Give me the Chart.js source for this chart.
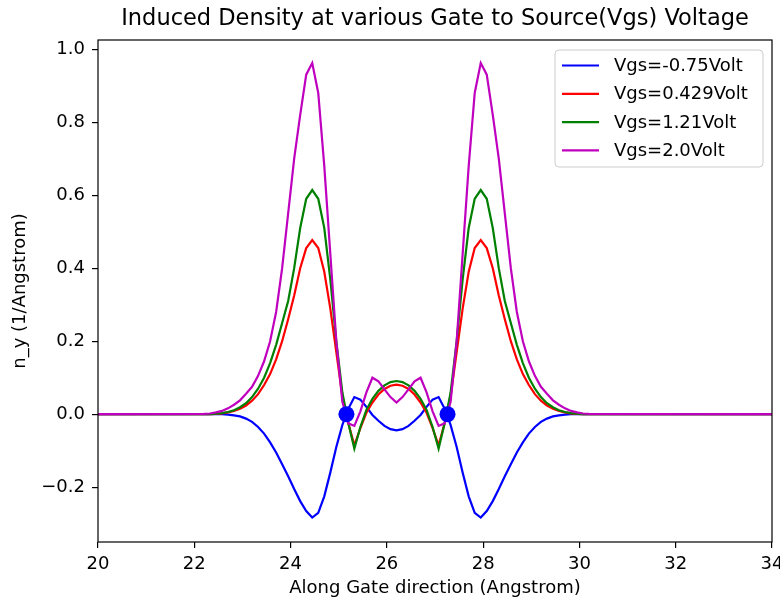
<!DOCTYPE html>
<html>
<head>
  <meta charset="utf-8">
  <title>Induced Density at various Gate to Source(Vgs) Voltage</title>
  <script src="https://cdn.jsdelivr.net/npm/chart.js"></script>
  <style>
    body { margin: 0; background: #fff; }
    #densityChart { display: block; }
  </style>
</head>
<body>
  <canvas id="densityChart" width="780" height="602"></canvas>

  <script>
    // position along the gate (Angstrom), shared by all four curves
    const gatePos = [
      19.5,
      22.2, 22.325, 22.45, 22.575, 22.7, 22.825, 22.95, 23.075,
      23.2, 23.325, 23.45, 23.575, 23.7, 23.825, 23.95, 24.075,
      24.2, 24.325, 24.45, 24.575, 24.7, 24.825, 24.95, 25.075,
      25.2, 25.325, 25.45, 25.575, 25.7, 25.825, 25.95, 26.075,
      26.2,
      26.325, 26.45, 26.575, 26.7, 26.825, 26.95, 27.075, 27.2,
      27.325, 27.45, 27.575, 27.7, 27.825, 27.95, 28.075, 28.2,
      28.325, 28.45, 28.575, 28.7, 28.825, 28.95, 29.075, 29.2,
      29.325, 29.45, 29.575, 29.7, 29.825, 29.95, 30.075, 30.2,
      34.5
    ];

    // induced density n_y (1/Angstrom) for each Vgs
    const nyVgsNeg075 = [
      0,
      0, 0, 0, 0, -0.001, -0.003, -0.006, -0.012,
      -0.021, -0.035, -0.053, -0.077, -0.105, -0.137, -0.17, -0.205,
      -0.238, -0.265, -0.283, -0.27, -0.225, -0.16, -0.09, -0.03,
      0.015, 0.047, 0.04, 0.02, -0.002, -0.018, -0.032, -0.041,
      -0.044,
      -0.041, -0.032, -0.018, -0.002, 0.02, 0.04, 0.047, 0.015,
      -0.03, -0.09, -0.16, -0.225, -0.27, -0.283, -0.265, -0.238,
      -0.205, -0.17, -0.137, -0.105, -0.077, -0.053, -0.035, -0.021,
      -0.012, -0.006, -0.003, -0.001, 0, 0, 0, 0,
      0
    ];
    const nyVgs0429 = [
      0,
      0, 0.0005, 0.001, 0.0025, 0.005, 0.009, 0.015, 0.024,
      0.037, 0.055, 0.08, 0.11, 0.15, 0.2, 0.26, 0.325,
      0.4, 0.455, 0.477, 0.455, 0.39, 0.29, 0.17, 0.05,
      -0.025, -0.085, -0.038, 0.004, 0.032, 0.054, 0.069, 0.078,
      0.081,
      0.078, 0.069, 0.054, 0.032, 0.004, -0.038, -0.085, -0.025,
      0.05, 0.17, 0.29, 0.39, 0.455, 0.477, 0.455, 0.4,
      0.325, 0.26, 0.2, 0.15, 0.11, 0.08, 0.055, 0.037,
      0.024, 0.015, 0.009, 0.005, 0.0025, 0.001, 0.0005, 0,
      0
    ];
    const nyVgs121 = [
      0,
      0, 0.0005, 0.0015, 0.003, 0.006, 0.011, 0.019, 0.03,
      0.047, 0.07, 0.1, 0.14, 0.19, 0.25, 0.31, 0.4,
      0.51, 0.59, 0.614, 0.59, 0.51, 0.37, 0.2, 0.06,
      -0.025, -0.094, -0.035, 0.012, 0.042, 0.064, 0.079, 0.088,
      0.091,
      0.088, 0.079, 0.064, 0.042, 0.012, -0.035, -0.094, -0.025,
      0.06, 0.2, 0.37, 0.51, 0.59, 0.614, 0.59, 0.51,
      0.4, 0.31, 0.25, 0.19, 0.14, 0.1, 0.07, 0.047,
      0.03, 0.019, 0.011, 0.006, 0.003, 0.0015, 0.0005, 0,
      0
    ];
    const nyVgs20 = [
      0,
      0.001, 0.002, 0.005, 0.009, 0.016, 0.026, 0.038, 0.056,
      0.075, 0.105, 0.145, 0.2, 0.28, 0.4, 0.55, 0.7,
      0.82, 0.93, 0.962, 0.88, 0.68, 0.44, 0.2, 0.035,
      -0.025, -0.032, 0.008, 0.06, 0.1, 0.09, 0.068, 0.047,
      0.032,
      0.047, 0.068, 0.09, 0.1, 0.06, 0.008, -0.032, -0.025,
      0.035, 0.2, 0.44, 0.68, 0.88, 0.962, 0.93, 0.82,
      0.7, 0.55, 0.4, 0.28, 0.2, 0.145, 0.105, 0.075,
      0.056, 0.038, 0.026, 0.016, 0.009, 0.005, 0.002, 0.001,
      0
    ];

    const seriesNames = ['Vgs=-0.75Volt', 'Vgs=0.429Volt', 'Vgs=1.21Volt', 'Vgs=2.0Volt'];
    const seriesColors = ['#0000ff', '#ff0000', '#008000', '#bf00bf'];

    // the two marked zero points
    const markX = [25.16, 27.26];
    const markY = [0, 0];

    const xTicks = [20, 22, 24, 26, 28, 30, 32, 34];
    const yTicks = [-0.2, 0, 0.2, 0.4, 0.6, 0.8, 1.0];
    const yTickLabels = ['\u22120.2', '0.0', '0.2', '0.4', '0.6', '0.8', '1.0'];

    const FONT = "'DejaVu Sans', sans-serif";
    Chart.defaults.font.family = FONT;
    Chart.defaults.color = '#000';

    const allSeries = [nyVgsNeg075, nyVgs0429, nyVgs121, nyVgs20];

    const lineSets = allSeries.map((vals, i) => ({
      label: seriesNames[i],
      data: gatePos.map((x, j) => ({ x: x, y: vals[j] })),
      borderColor: seriesColors[i],
      borderWidth: 2.2,
      pointRadius: 0,
      tension: 0,
      fill: false,
      order: allSeries.length - i   // later curves on top
    }));

    lineSets.push({
      label: 'marks',
      data: markX.map((x, j) => ({ x: x, y: markY[j] })),
      showLine: false,
      pointRadius: 8,
      pointBackgroundColor: '#0000ff',
      pointBorderWidth: 0,
      order: 0
    });

    // title, frame and legend drawn like the matplotlib figure
    const figureDecor = {
      id: 'figureDecor',
      afterDraw(chart) {
        const { ctx, chartArea: a } = chart;
        ctx.save();

        ctx.strokeStyle = '#000';
        ctx.lineWidth = 1.2;
        ctx.strokeRect(a.left, a.top, a.right - a.left, a.bottom - a.top);

        ctx.fillStyle = '#000';
        ctx.font = '22.5px ' + FONT;
        ctx.textAlign = 'center';
        ctx.textBaseline = 'middle';
        ctx.fillText('Induced Density at various Gate to Source(Vgs) Voltage', (a.left + a.right) / 2, 19);

        // legend box
        const bx = 555, by = 50, bw = 208, bh = 117;
        ctx.beginPath();
        ctx.roundRect(bx, by, bw, bh, 4);
        ctx.fillStyle = 'rgba(255,255,255,0.8)';
        ctx.fill();
        ctx.strokeStyle = '#cccccc';
        ctx.lineWidth = 1;
        ctx.stroke();

        ctx.font = '18px ' + FONT;
        ctx.textAlign = 'left';
        seriesNames.forEach((name, i) => {
          const ry = by + 15.5 + i * 28.3;
          ctx.beginPath();
          ctx.moveTo(bx + 7, ry);
          ctx.lineTo(bx + 44, ry);
          ctx.strokeStyle = seriesColors[i];
          ctx.lineWidth = 2.2;
          ctx.stroke();
          ctx.fillStyle = '#000';
          ctx.fillText(name, bx + 59, ry + 1);
        });

        ctx.restore();
      }
    };

    const tickGrid = { drawOnChartArea: false, drawTicks: true, tickLength: 6, color: '#000', lineWidth: 1.2 };

    new Chart(document.getElementById('densityChart'), {
      type: 'line',
      data: { datasets: lineSets },
      options: {
        responsive: false,
        animation: false,
        events: [],
        devicePixelRatio: 1,
        layout: { padding: { left: 0, top: 40, right: 7, bottom: 0 } },
        plugins: {
          legend: { display: false },
          tooltip: { enabled: false },
          title: { display: false }
        },
        scales: {
          x: {
            type: 'linear',
            min: 20,
            max: 34,
            afterBuildTicks: s => { s.ticks = xTicks.map(v => ({ value: v })); },
            afterFit: s => { s.height = 60; s.paddingLeft = 0; s.paddingRight = 0; },
            ticks: { font: { size: 18 }, padding: 6, autoSkip: false, maxRotation: 0, color: '#000' },
            grid: tickGrid,
            border: { display: false },
            title: {
              display: true,
              text: 'Along Gate direction (Angstrom)',
              font: { size: 18 },
              padding: { top: 0, bottom: 3 }
            }
          },
          y: {
            type: 'linear',
            min: -0.35,
            max: 1.025,
            afterBuildTicks: s => { s.ticks = yTicks.map(v => ({ value: v })); },
            afterFit: s => { s.width = 98; s.paddingTop = 0; s.paddingBottom = 0; },
            ticks: {
              font: { size: 18 },
              padding: 7,
              autoSkip: false,
              color: '#000',
              callback: v => yTickLabels[yTicks.indexOf(v)]
            },
            grid: tickGrid,
            border: { display: false },
            title: {
              display: true,
              text: 'n_y (1/Angstrom)',
              font: { size: 18 },
              padding: { top: 10, bottom: 0 }
            }
          }
        }
      },
      plugins: [figureDecor]
    });
  </script>
</body>
</html>
